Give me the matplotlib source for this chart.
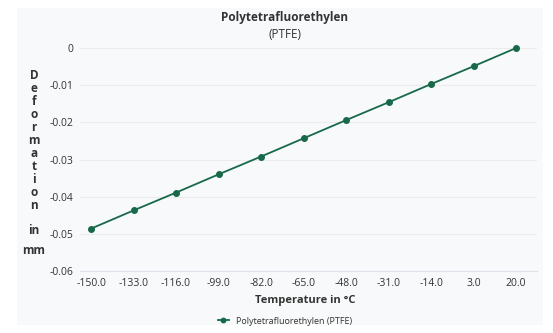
import matplotlib.pyplot as plt
from matplotlib.patches import Rectangle

plt.rcParams['font.family'] = ['Open Sans', 'DejaVu Sans']

temps = ['-150.0', '-133.0', '-116.0', '-99.0', '-82.0', '-65.0', '-48.0',
         '-31.0', '-14.0', '3.0', '20.0']
deformation = [-0.0486, -0.0437, -0.0389, -0.0340, -0.0292, -0.0243,
               -0.0194, -0.0146, -0.0097, -0.0049, 0.0]
yticks = [0, -0.01, -0.02, -0.03, -0.04, -0.05, -0.06]
ytick_labels = ['0', '-0.01', '-0.02', '-0.03', '-0.04', '-0.05', '-0.06']

green = '#17694a'
text_col = '#333333'

fig = plt.figure(figsize=(5.53, 3.33), dpi=100)
fig.patch.set_facecolor('white')
# light panel behind the chart
fig.patches.append(Rectangle((17 / 553, 1 - 325 / 333), 526 / 553, 317 / 333,
                             transform=fig.transFigure, facecolor='#f8f9fa',
                             edgecolor='none', zorder=-10))

ax = fig.add_axes([80 / 553, 1 - 271 / 333, 457 / 553, 223 / 333])
ax.set_facecolor('none')
ax.set_zorder(1)

x = list(range(len(temps)))
ax.plot(x, deformation, color=green, lw=1.3, marker='o', ms=4, clip_on=False)

ax.set_xlim(-0.26, 10.49)
ax.set_ylim(-0.06, 0)
ax.set_xticks(x)
ax.set_xticklabels(temps, fontsize=7.5, color=text_col)
ax.set_yticks(yticks)
ax.set_yticklabels(ytick_labels, fontsize=7.5, color=text_col)
ax.tick_params(length=0, pad=5)
ax.grid(axis='y', color='#ececec', lw=0.8)
for s in ['top', 'right', 'left']:
    ax.spines[s].set_visible(False)
ax.spines['bottom'].set_color('#dde3ea')

fig.text(285 / 553, 1 - 17 / 333, 'Polytetrafluorethylen', ha='center', va='center',
         fontsize=8.5, fontweight='bold', color=text_col)
fig.text(285 / 553, 1 - 35 / 333, '(PTFE)', ha='center', va='center',
         fontsize=8.5, color=text_col)
fig.text(305 / 553, 1 - 300 / 333, 'Temperature in °C', ha='center', va='center',
         fontsize=8, fontweight='bold', color=text_col)

fig.text(34 / 553, 1 - 140 / 333, 'D\ne\nf\no\nr\nm\na\nt\ni\no\nn', ha='center',
         va='center', fontsize=8.5, fontweight='bold', color=text_col, linespacing=1.0)
fig.text(34 / 553, 1 - 231 / 333, 'in', ha='center', va='center',
         fontsize=8.5, fontweight='bold', color=text_col)
fig.text(34 / 553, 1 - 251 / 333, 'mm', ha='center', va='center',
         fontsize=8.5, fontweight='bold', color=text_col)

leg = fig.legend(['Polytetrafluorethylen (PTFE)'], loc='center',
                 bbox_to_anchor=(285 / 553, 1 - 321 / 333), frameon=False,
                 fontsize=6.5, handlelength=1.2, markerscale=0.8)
for t in leg.get_texts():
    t.set_color(text_col)

fig.savefig('out.png', dpi=100)
